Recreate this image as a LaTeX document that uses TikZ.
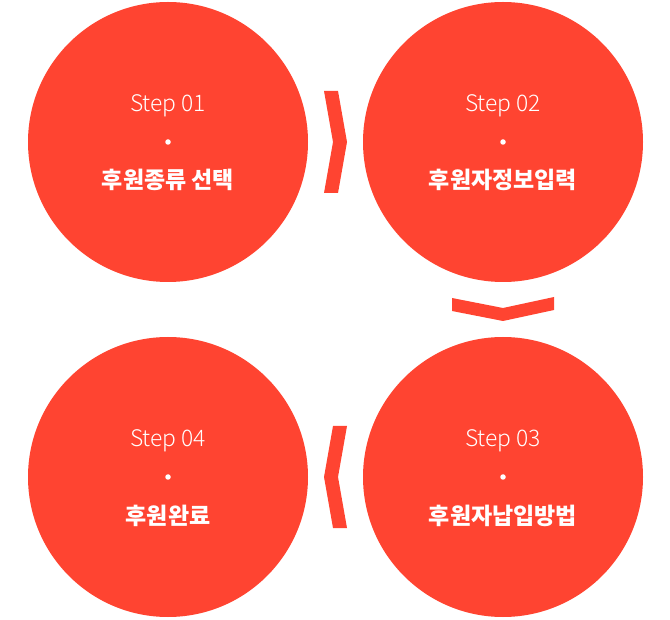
\documentclass[tikz,border=0pt]{standalone}
\usepackage{fontspec}
\newfontfamily\kr{Noto Sans CJK KR}
\newfontfamily\krl{Noto Sans CJK KR Light}
\definecolor{accent}{HTML}{FF4431}
\begin{document}
\begin{tikzpicture}[x=1pt,y=-1pt,
  stepcircle/.style={circle,fill=accent,minimum size=280pt,inner sep=0pt},
  steplabel/.style={text=white,font=\krl\fontsize{22.8}{23}\selectfont,inner sep=0pt},
  steptitle/.style={text=white,font=\kr\bfseries\fontsize{23}{23}\selectfont,inner sep=0pt},
  stepdot/.style={circle,fill=white,minimum size=5.5pt,inner sep=0pt},
  chevron/.style={fill=accent}]
\useasboundingbox (0,0) rectangle (670,620);
\node[stepcircle] (c1) at (168,142) {};
\node[stepcircle] (c2) at (503,142) {};
\node[stepcircle] (c3) at (503,477) {};
\node[stepcircle] (c4) at (168,477) {};
\foreach \n/\s/\t in {c1/01/후원종류 선택, c2/02/후원자정보입력, c3/03/후원자납입방법, c4/04/후원완료}{
  \node[steplabel,anchor=base] (\n s) at ([yshift=30.5]\n.center) {Step \s};
  \node[stepdot] (\n d) at (\n.center) {};
  \node[steptitle,anchor=base] (\n t) at ([yshift=-47]\n.center) {\t};
}
\fill[chevron] (324,91) -- (338,91) -- (347,142) -- (338,193) -- (324,193) -- (333,142) -- cycle;
\fill[chevron] (452,298) -- (503,308) -- (554,297) -- (554,310) -- (503,321) -- (452,311) -- cycle;
\fill[chevron] (333,426) -- (347,426) -- (338,477) -- (347,528) -- (333,528) -- (324,477) -- cycle;
\end{tikzpicture}
\end{document}
